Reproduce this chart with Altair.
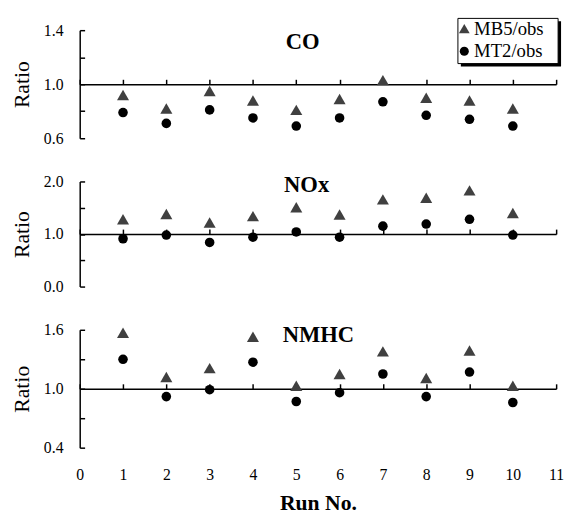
import altair as alt
import pandas as pd

runs = list(range(1, 11))
series = ["MB5/obs", "MT2/obs"]
shapes = ["triangle-up", "circle"]
colors = ["#404040", "#000000"]
x_ticks = list(range(0, 12))

co_mb5 = [0.92, 0.82, 0.95, 0.88, 0.81, 0.89, 1.03, 0.90, 0.88, 0.82]
co_mt2 = [0.79, 0.71, 0.81, 0.75, 0.69, 0.75, 0.87, 0.77, 0.74, 0.69]
nox_mb5 = [1.28, 1.38, 1.22, 1.34, 1.51, 1.37, 1.66, 1.69, 1.83, 1.40]
nox_mt2 = [0.91, 0.98, 0.84, 0.94, 1.04, 0.94, 1.15, 1.19, 1.28, 0.98]
nmhc_mb5 = [1.57, 1.12, 1.21, 1.53, 1.03, 1.15, 1.38, 1.11, 1.39, 1.03]
nmhc_mt2 = [1.30, 0.92, 0.99, 1.27, 0.87, 0.96, 1.15, 0.92, 1.17, 0.86]

co_labels = [0.6, 1.0, 1.4]
co_ticks = [0.6, 0.8, 1.0, 1.2, 1.4]
nox_labels = [0.0, 1.0, 2.0]
nox_ticks = [0.0, 0.5, 1.0, 1.5, 2.0]
nmhc_labels = [0.4, 1.0, 1.6]
nmhc_ticks = [0.4, 0.7, 1.0, 1.3, 1.6]

W = 485
SERIF = "Liberation Serif"
# legend box (pixels, relative to the CO panel)
LX0, LX1, LY0, LY1 = 385, 487, -12, 34
ROW_Y = [-1.5, 21.5]
SYM_X, LAB_X = 391.5, 401.5


def legend_layers():
    out = []
    out.append(alt.Chart(pd.DataFrame({"k": [0]})).mark_rect(color="black").encode(
        x=alt.value(LX0 + 3), x2=alt.value(LX1 + 3), y=alt.value(LY0 + 3), y2=alt.value(LY1 + 3)))
    out.append(alt.Chart(pd.DataFrame({"k": [0]})).mark_rect(
        fill="white", stroke="black", strokeWidth=1).encode(
        x=alt.value(LX0), x2=alt.value(LX1), y=alt.value(LY0), y2=alt.value(LY1)))
    for i, s in enumerate(series):
        one = pd.DataFrame({"Series": [s]})
        out.append(alt.Chart(one).mark_point(
            shape=shapes[i], filled=True, opacity=1, color=colors[i],
            size=[120, 85][i]).encode(x=alt.value(SYM_X), y=alt.value(ROW_Y[i])))
        out.append(alt.Chart(one).mark_text(
            align="left", baseline="middle", font=SERIF, fontSize=19, color="black").encode(
            text="Series:N", x=alt.value(LAB_X), y=alt.value(ROW_Y[i])))
    return out


def panel(mb5, mt2, name, ydom, ylabels, yticks, h, tx, ty, legend=False, bottom=False):
    df = pd.DataFrame({
        "Run": runs * 2,
        "Ratio": mb5 + mt2,
        "Series": [series[0]] * len(runs) + [series[1]] * len(runs),
    })
    xs = alt.Scale(domain=[0, 11], nice=False, zero=False)
    ys = alt.Scale(domain=ydom, nice=False, zero=False)
    pts = alt.Chart(df).mark_point(filled=True, opacity=1).encode(
        x=alt.X("Run:Q", scale=xs, axis=alt.Axis(
            orient="top", offset=-h / 2, values=x_ticks, labels=False, tickSize=5,
            tickColor="black", tickWidth=1.5, domainColor="black", domainWidth=1.5,
            title=None, grid=False)),
        y=alt.Y("Ratio:Q", scale=ys, axis=alt.Axis(
            orient="left", values=ylabels, format=".1f", tickSize=0, labelFont=SERIF,
            labelFontSize=16, labelColor="black", labelPadding=17, domainColor="black",
            domainWidth=1.5, title="Ratio", titleFont=SERIF, titleFontSize=22,
            titleFontWeight="normal", titleColor="black", titlePadding=10, grid=False)),
        shape=alt.Shape("Series:N", scale=alt.Scale(domain=series, range=shapes), legend=None),
        color=alt.Color("Series:N", scale=alt.Scale(domain=series, range=colors), legend=None),
        size=alt.Size("Series:N", scale=alt.Scale(domain=series, range=[150, 95]), legend=None),
    )
    if bottom:
        xaxis2 = alt.Axis(
            orient="bottom", values=x_ticks, domain=False, ticks=False, tickSize=0,
            labelFont=SERIF, labelFontSize=16, labelColor="black", labelPadding=19,
            labelFlush=False, labelOverlap=False, title="Run No.", titleFont=SERIF,
            titleFontSize=22, titleFontWeight="bold", titleColor="black", titlePadding=11,
            grid=False)
    else:
        xaxis2 = None
    tick_layer = alt.Chart(df).mark_point(opacity=0, size=1).encode(
        x=alt.X("Run:Q", scale=xs, axis=xaxis2),
        y=alt.Y("Ratio:Q", scale=ys, axis=alt.Axis(
            orient="right", offset=-W, values=yticks, labels=False, domain=False,
            tickSize=5, tickColor="black", tickWidth=1.5, title=None, grid=False)),
    )
    ttl = alt.Chart(pd.DataFrame({"t": [name]})).mark_text(
        font=SERIF, fontSize=23, fontWeight="bold", color="black"
    ).encode(text="t:N", x=alt.value(tx), y=alt.value(ty))
    layers = [pts, tick_layer, ttl]
    if legend:
        layers = layers + legend_layers()
    return alt.layer(*layers).resolve_axis(x="independent", y="independent").properties(width=W, height=h)


p1 = panel(co_mb5, co_mt2, "CO", [0.6, 1.4], co_labels, co_ticks, 110, 227, 12, legend=True)
p2 = panel(nox_mb5, nox_mt2, "NOx", [0.0, 2.0], nox_labels, nox_ticks, 107, 231, 4)
p3 = panel(nmhc_mb5, nmhc_mt2, "NMHC", [0.4, 1.6], nmhc_labels, nmhc_ticks, 120, 243, 5, bottom=True)

chart = alt.vconcat(p1, p2, p3, spacing=44, bounds="flush").properties(
    padding={"top": 5, "left": 3, "right": 0, "bottom": 0}, background="white"
).configure_view(stroke=None)

chart.save("out.html", embed_options={"renderer": "svg", "actions": False})
